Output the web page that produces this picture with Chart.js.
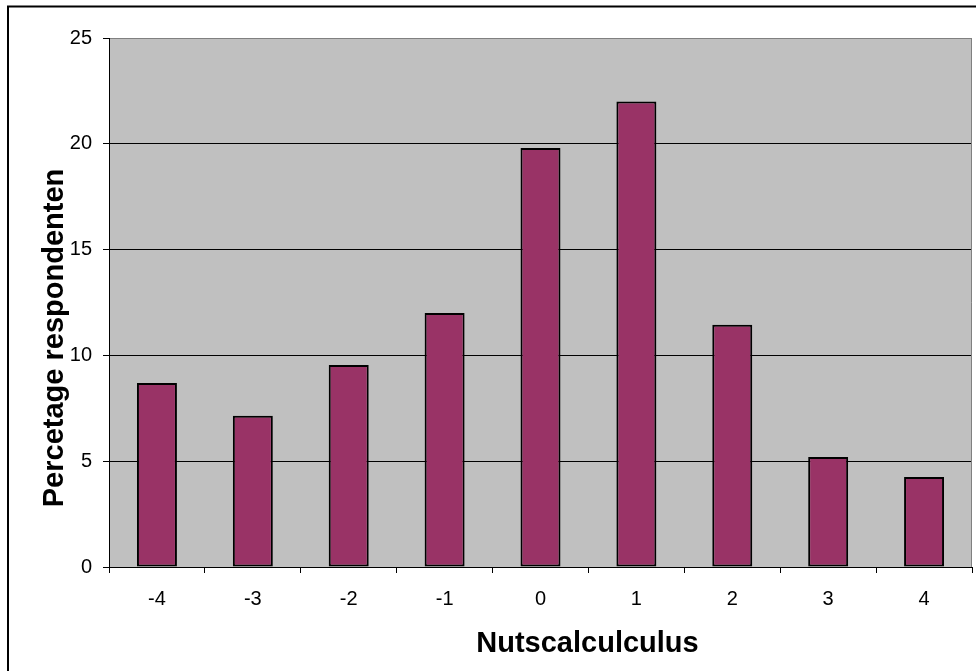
<!DOCTYPE html>
<html>
<head>
<meta charset="utf-8">
<script src="https://cdn.jsdelivr.net/npm/chart.js@4"></script>
<style>
  html, body { margin: 0; padding: 0; background: #fff; }
  #chart { display: block; }
</style>
</head>
<body>
<canvas id="chart" width="976" height="671"></canvas>
<script>
// === Data ===
const categories = ['-4', '-3', '-2', '-1', '0', '1', '2', '3', '4'];
const percentages = [8.7, 7.15, 9.55, 12.0, 19.8, 22.0, 11.45, 5.2, 4.25];
const yTicks = [0, 5, 10, 15, 20, 25];

const xTitle = 'Nutscalculculus';
const yTitle = 'Percetage respondenten';
const FONT = '"Liberation Sans", Arial, sans-serif';

// frame, grey plot background and the hand-placed axis titles
const excelLook = {
    id: 'excelLook',
    beforeDraw(chart) {
        const { ctx, chartArea: a } = chart;
        ctx.save();
        ctx.fillStyle = '#fff';
        ctx.fillRect(0, 0, chart.width, chart.height);
        ctx.strokeStyle = '#000';
        ctx.lineWidth = 2;
        ctx.beginPath();
        ctx.moveTo(8, chart.height + 5);
        ctx.lineTo(8, 6.5);
        ctx.lineTo(chart.width + 5, 6.5);
        ctx.stroke();
        ctx.fillStyle = '#c0c0c0';
        ctx.fillRect(a.left, a.top, a.right - a.left, a.bottom - a.top);
        ctx.restore();
    },
    beforeDatasetsDraw(chart) {
        const { ctx, chartArea: a } = chart;
        ctx.save();
        ctx.strokeStyle = '#808080';
        ctx.lineWidth = 1;
        ctx.beginPath();
        ctx.moveTo(a.right - 0.5, a.top);
        ctx.lineTo(a.right - 0.5, a.bottom);
        ctx.stroke();
        ctx.restore();
    },
    afterDraw(chart) {
        const { ctx } = chart;
        ctx.save();
        ctx.fillStyle = '#000';
        ctx.font = 'bold 29px ' + FONT;
        ctx.textAlign = 'center';
        ctx.textBaseline = 'alphabetic';
        ctx.fillText(xTitle, 587.5, 652);
        ctx.translate(62.5, 338);
        ctx.rotate(-Math.PI / 2);
        ctx.fillText(yTitle, 0, 0);
        ctx.restore();
    }
};

new Chart(document.getElementById('chart'), {
    type: 'bar',
    data: {
        labels: categories,
        datasets: [{
            data: percentages,
            backgroundColor: '#993366',
            borderColor: '#000',
            borderWidth: 2,
            borderSkipped: false,
            barPercentage: 0.417,
            categoryPercentage: 1
        }]
    },
    options: {
        responsive: false,
        animation: false,
        layout: { padding: { top: 38, right: 4, bottom: 0, left: 0 } },
        plugins: {
            legend: { display: false },
            tooltip: { enabled: false }
        },
        scales: {
            x: {
                grid: {
                    offset: true,
                    drawOnChartArea: false,
                    drawTicks: true,
                    tickLength: 6,
                    color: '#000'
                },
                border: { color: '#000', width: 1 },
                ticks: {
                    color: '#000',
                    font: { family: FONT, size: 20 },
                    padding: 14,
                    maxRotation: 0
                },
                afterFit(scale) { scale.height = 104; }
            },
            y: {
                min: 0,
                max: 25,
                afterBuildTicks(scale) {
                    scale.ticks = yTicks.map(v => ({ value: v }));
                },
                grid: {
                    color: c => (c.tick && c.tick.value === 25 ? '#808080' : '#000'),
                    tickColor: '#000',
                    tickLength: 6,
                    lineWidth: 1
                },
                border: { color: '#000', width: 1 },
                ticks: {
                    color: '#000',
                    font: { family: FONT, size: 20 },
                    padding: 11
                },
                afterFit(scale) { scale.width = 109; }
            }
        }
    },
    plugins: [excelLook]
});
</script>
</body>
</html>
